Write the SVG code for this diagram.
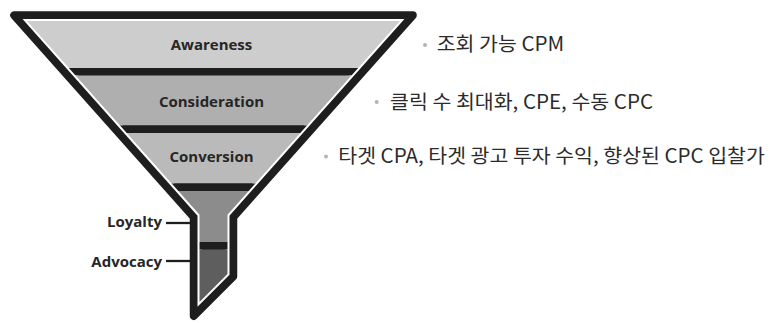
<svg xmlns="http://www.w3.org/2000/svg" width="774" height="323" viewBox="0 0 774 323">
  <style>
    .band-label { font-family: "Open Sans", "Liberation Sans", sans-serif; font-weight: 700; font-size: 15px; fill: #262626; text-anchor: middle; }
    .side-label { font-family: "Open Sans", "Liberation Sans", sans-serif; font-weight: 700; font-size: 15px; fill: #262626; text-anchor: end; }
    .note { font-family: "Noto Sans CJK KR", "Noto Sans", sans-serif; font-size: 19.5px; fill: #2b2b2b; }
    .bullet { fill: #b4b4b4; }
    .sep { fill: #1e1e1e; }
    .leader { stroke: #1e1e1e; stroke-width: 2.3; fill: none; }
  </style>
  <defs>
    <clipPath id="inner">
      <path d="M27,21 L400,21 L227.5,214.8 L227.5,274 L199.5,302 L199.5,214.8 Z"/>
    </clipPath>
  </defs>
  <rect width="774" height="323" fill="#ffffff"/>

  <g id="funnel">
    <path d="M14.2,15.25 L412.8,15.25 L233.25,217 L233.25,276.4 L193.75,315.9 L193.75,217 Z" fill="#1e1e1e" stroke="#1e1e1e" stroke-width="8" stroke-linejoin="round"/>
    <path d="M27,21 L400,21 L227.5,214.8 L227.5,274 L199.5,302 L199.5,214.8 Z" fill="none" stroke="#ffffff" stroke-width="4" stroke-linejoin="miter"/>
    <g clip-path="url(#inner)">
      <rect id="band-awareness" x="0" y="15" width="420" height="54" fill="#cdcdcd"/>
      <rect class="sep" x="0" y="68" width="420" height="7.5"/>
      <rect id="band-consideration" x="0" y="75.5" width="420" height="50" fill="#afafaf"/>
      <rect class="sep" x="0" y="125.5" width="420" height="7.5"/>
      <rect id="band-conversion" x="0" y="133" width="420" height="50.5" fill="#bababa"/>
      <rect class="sep" x="0" y="183.5" width="420" height="7.5"/>
      <rect id="band-loyalty" x="0" y="191" width="420" height="51" fill="#8c8c8c"/>
      <rect class="sep" x="0" y="242" width="420" height="7.5"/>
      <rect id="band-advocacy" x="0" y="249.5" width="420" height="70" fill="#5e5e5e"/>
    </g>
  </g>

  <g id="node-awareness"><text class="band-label" x="211.5" y="50">Awareness</text></g>
  <g id="node-consideration"><text class="band-label" x="211.5" y="107">Consideration</text></g>
  <g id="node-conversion"><text class="band-label" x="211.5" y="161.7">Conversion</text></g>
  <g id="node-loyalty"><text class="side-label" x="162" y="227.3">Loyalty</text></g>
  <g id="node-advocacy"><text class="side-label" x="162" y="266.5">Advocacy</text></g>

  <g id="connectors">
    <line class="leader" x1="166" y1="223" x2="191" y2="223"/>
    <line class="leader" x1="166" y1="261" x2="191" y2="261"/>
  </g>

  <g id="note-awareness">
    <circle class="bullet" cx="425" cy="45" r="2"/>
    <text class="note" x="436.7" y="51" textLength="127.5" lengthAdjust="spacingAndGlyphs">조회 가능 CPM</text>
  </g>
  <g id="note-consideration">
    <circle class="bullet" cx="376.7" cy="102" r="2"/>
    <text class="note" x="390" y="108.5" textLength="263" lengthAdjust="spacingAndGlyphs">클릭 수 최대화, CPE, 수동 CPC</text>
  </g>
  <g id="note-conversion">
    <circle class="bullet" cx="326" cy="156.5" r="2"/>
    <text class="note" x="338.3" y="163" textLength="426.5" lengthAdjust="spacingAndGlyphs">타겟 CPA, 타겟 광고 투자 수익, 향상된 CPC 입찰가</text>
  </g>
</svg>
